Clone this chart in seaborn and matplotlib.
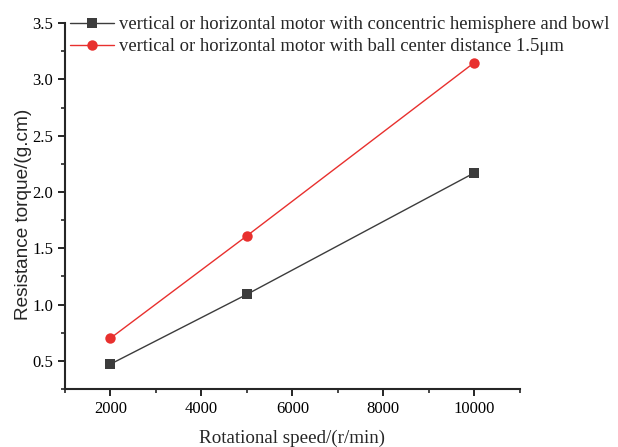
import matplotlib
matplotlib.use("Agg")
import matplotlib.pyplot as plt
import seaborn as sns
import pandas as pd
from matplotlib.ticker import MultipleLocator

speeds = [2000, 5000, 10000]
concentric = [0.47, 1.09, 2.17]
offset = [0.70, 1.61, 3.15]
labels = ["vertical or horizontal motor with concentric hemisphere and bowl",
          "vertical or horizontal motor with ball center distance 1.5\u03bcm"]

sns.set_style("ticks")
plt.rcParams['font.family'] = ['Liberation Serif', 'DejaVu Serif']

df = pd.DataFrame({
    "speed": speeds * 2,
    "torque": concentric + offset,
    "series": [labels[0]] * 3 + [labels[1]] * 3,
})

fig = plt.figure(figsize=(6.18, 4.47), dpi=100)
ax = fig.add_axes([0.105, 0.13, 0.736, 0.818])
sns.lineplot(data=df, x="speed", y="torque", hue="series", style="series",
             markers=["s", "o"], dashes=False,
             palette=["#3c3c3c", "#e8302e"], markersize=7.5, linewidth=1,
             markeredgewidth=0, ax=ax)

ax.set_xlim(1000, 11000)
ax.set_ylim(0.25, 3.5)
ax.xaxis.set_major_locator(MultipleLocator(2000))
ax.xaxis.set_minor_locator(MultipleLocator(1000))
ax.yaxis.set_major_locator(MultipleLocator(0.5))
ax.yaxis.set_minor_locator(MultipleLocator(0.25))
ax.tick_params(which='major', direction='out', length=5, width=1.2, labelsize=12, colors='black')
ax.tick_params(which='minor', direction='out', length=3, width=1.2)
for s in ['left', 'bottom']:
    ax.spines[s].set_linewidth(1.5)
sns.despine(ax=ax)
ax.set_xlabel("Rotational speed/(r/min)", fontsize=13.7, labelpad=9)
ax.set_ylabel("Resistance torque/(g.cm)", fontsize=13.7,
              family=['Liberation Sans', 'DejaVu Sans'])
ax.yaxis.set_label_coords(-0.072, 0.477)
ax.set_yticklabels([f"{v:.1f}" for v in ax.get_yticks()])

leg = ax.legend(loc='upper left', frameon=False, fontsize=13.4, handlelength=2.36,
                borderaxespad=0.0, bbox_to_anchor=(-0.005, 1.04), labelspacing=0.28,
                handletextpad=0.27)

fig.savefig("out.png", dpi=100)
